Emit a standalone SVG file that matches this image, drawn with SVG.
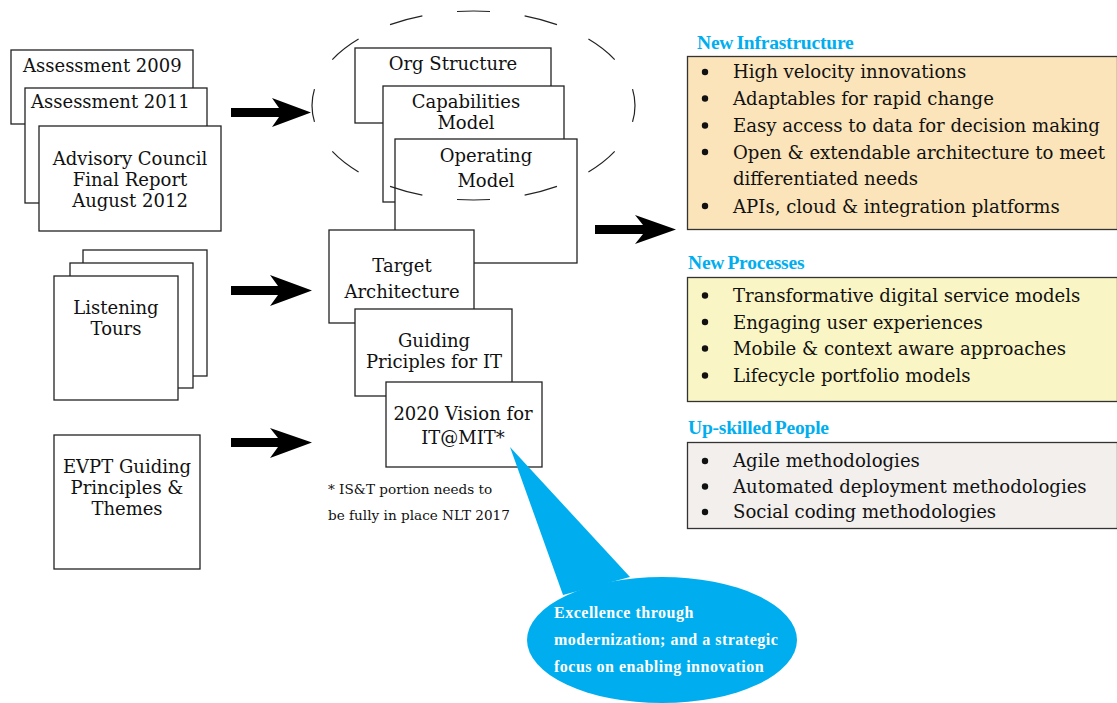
<svg xmlns="http://www.w3.org/2000/svg" width="1117" height="703" viewBox="0 0 1117 703">
<style>
.box{fill:#fff;stroke:#222;stroke-width:1.3}
.t{font-family:"DejaVu Serif","Liberation Serif",serif;font-size:18px;fill:#111}
.c{text-anchor:middle}
.r{font-family:"DejaVu Serif","Liberation Serif",serif;font-size:18.1px;fill:#111}
.fn{font-family:"DejaVu Serif","Liberation Serif",serif;font-size:13.6px;fill:#111}
.ttl{font-family:"Liberation Serif",serif;font-weight:bold;font-size:19.5px;fill:#00aeef;word-spacing:-1.5px;letter-spacing:-0.2px}
.panel{stroke:#333;stroke-width:1.3}
.bul{fill:#111}
.arrow{fill:#000}
.callt{font-family:"Liberation Serif",serif;font-weight:bold;font-size:16px;fill:#fff;letter-spacing:0.5px}
</style>
<rect width="1117" height="703" fill="#fff"/>

<g id="assessment-2009"><rect class="box" x="11" y="50" width="182" height="74"/><text class="t" x="23" y="72">Assessment 2009</text></g>
<g id="assessment-2011"><rect class="box" x="25" y="88" width="182" height="115"/><text class="t" x="31" y="108">Assessment 2011</text></g>
<g id="advisory-council"><rect class="box" x="39" y="126" width="182" height="105"/><text class="t c" x="130" y="165">Advisory Council</text><text class="t c" x="130" y="186">Final Report</text><text class="t c" x="130" y="207">August 2012</text></g>

<g id="listening-tours"><rect class="box" x="83" y="250" width="124" height="126"/><rect class="box" x="70" y="263" width="123" height="125"/><rect class="box" x="54" y="276" width="124" height="124"/><text class="t c" x="116" y="314">Listening</text><text class="t c" x="116" y="335">Tours</text></g>

<g id="evpt"><rect class="box" x="54" y="435" width="146" height="134"/><text class="t c" x="127" y="473">EVPT Guiding</text><text class="t c" x="127" y="494">Principles &amp;</text><text class="t c" x="127" y="515">Themes</text></g>

<g id="org-structure"><rect class="box" x="355" y="48" width="196" height="75"/><text class="t c" x="453" y="70">Org Structure</text></g>
<g id="capabilities-model"><rect class="box" x="383" y="86" width="181" height="116"/><text class="t c" x="466" y="108">Capabilities</text><text class="t c" x="466" y="129">Model</text></g>
<g id="operating-model"><rect class="box" x="395" y="139" width="182" height="124"/><text class="t c" x="486" y="162">Operating</text><text class="t c" x="486" y="187">Model</text></g>
<g id="target-architecture"><rect class="box" x="329" y="230" width="145" height="93"/><text class="t c" x="402" y="272">Target</text><text class="t c" x="402" y="298">Architecture</text></g>
<g id="guiding-principles"><rect class="box" x="355" y="309" width="157" height="87"/><text class="t c" x="434" y="347">Guiding</text><text class="t c" x="434" y="368">Priciples for IT</text></g>
<g id="vision-2020"><rect class="box" x="386" y="382" width="156" height="85"/><text class="t c" x="463" y="420">2020 Vision for</text><text class="t c" x="463" y="444">IT@MIT*</text></g>

<g id="grouping-ellipse"><ellipse cx="473.5" cy="105.5" rx="161.5" ry="94.5" fill="none" stroke="#222" stroke-width="1.2" pathLength="12" stroke-dasharray="0.49 0.51" stroke-dashoffset="0.245"/></g>

<g id="footnote"><text class="fn" x="328" y="494">* IS&amp;T portion needs to</text><text class="fn" x="328" y="520">be fully in place NLT 2017</text></g>

<g id="connectors">
<polygon class="arrow" points="231,108 279,108 272,98 311,112.5 272,127 279,117 231,117"/>
<polygon class="arrow" points="231,286 278,286 270,275 312,290.5 270,306 278,295 231,295"/>
<polygon class="arrow" points="231,438 278,438 270,428 312,442.5 270,458 278,447 231,447"/>
<polygon class="arrow" points="595,225 643,225 635,215 676,229.5 635,244 643,234 595,234"/>
</g>

<g id="new-infrastructure">
<text class="ttl" x="697" y="49">New Infrastructure</text>
<rect class="panel" x="687.5" y="56.5" width="430" height="173" fill="#fbe4b9"/>
<circle class="bul" cx="705" cy="72" r="3.2"/><text class="r" x="733" y="78">High velocity innovations</text>
<circle class="bul" cx="705" cy="98.5" r="3.2"/><text class="r" x="733" y="105">Adaptables for rapid change</text>
<circle class="bul" cx="705" cy="125.5" r="3.2"/><text class="r" x="733" y="132">Easy access to data for decision making</text>
<circle class="bul" cx="705" cy="152" r="3.2"/><text class="r" x="733" y="158.5">Open &amp; extendable architecture to meet</text>
<text class="r" x="733" y="185">differentiated needs</text>
<circle class="bul" cx="705" cy="206" r="3.2"/><text class="r" x="733" y="212.5">APIs, cloud &amp; integration platforms</text>
</g>

<g id="new-processes">
<text class="ttl" x="688" y="269">New Processes</text>
<rect class="panel" x="687.5" y="277.5" width="430" height="124" fill="#faf5c4"/>
<circle class="bul" cx="705" cy="295.5" r="3.2"/><text class="r" x="733" y="302">Transformative digital service models</text>
<circle class="bul" cx="705" cy="322" r="3.2"/><text class="r" x="733" y="328.5">Engaging user experiences</text>
<circle class="bul" cx="705" cy="348.5" r="3.2"/><text class="r" x="733" y="355">Mobile &amp; context aware approaches</text>
<circle class="bul" cx="705" cy="375.5" r="3.2"/><text class="r" x="733" y="382">Lifecycle portfolio models</text>
</g>

<g id="upskilled-people">
<text class="ttl" x="688" y="434">Up-skilled People</text>
<rect class="panel" x="687.5" y="442.5" width="430" height="86" fill="#f2efed"/>
<circle class="bul" cx="705" cy="461" r="3.2"/><text class="r" x="733" y="467">Agile methodologies</text>
<circle class="bul" cx="705" cy="486.5" r="3.2"/><text class="r" x="733" y="492.5">Automated deployment methodologies</text>
<circle class="bul" cx="705" cy="512" r="3.2"/><text class="r" x="733" y="518">Social coding methodologies</text>
</g>

<g id="callout">
<path d="M510,447 L563,595 L630,577 Z" fill="#00aeef"/>
<ellipse cx="662" cy="640" rx="135" ry="63" fill="#00aeef"/>
<text class="callt" x="554" y="618">Excellence through</text>
<text class="callt" x="554" y="645">modernization; and a strategic</text>
<text class="callt" x="554" y="672">focus on enabling innovation</text>
</g>
</svg>
